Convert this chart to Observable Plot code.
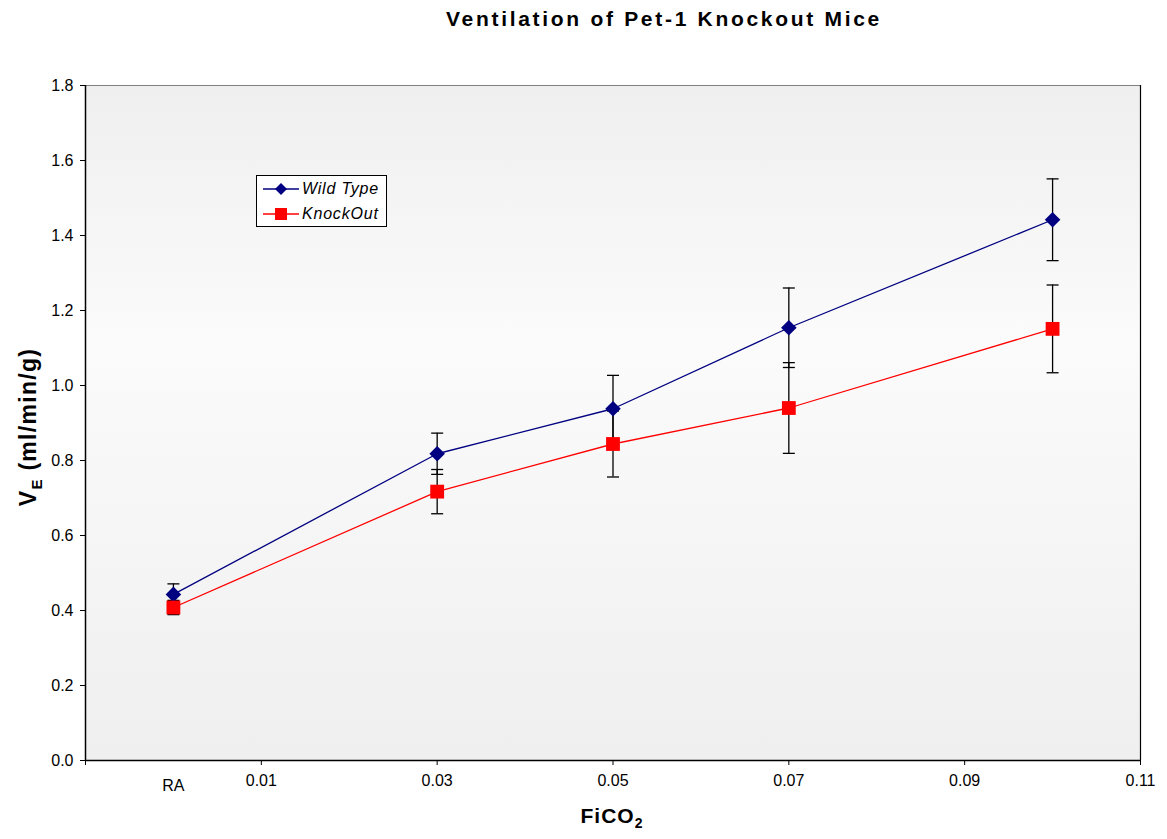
<!DOCTYPE html>
<html>
<head>
<meta charset="utf-8">
<script src="https://cdn.jsdelivr.net/npm/d3@7"></script>
<script src="https://cdn.jsdelivr.net/npm/@observablehq/plot@0.6"></script>
<style>
  body { margin: 0; background: white; font-family: "Liberation Sans", Arial, sans-serif; }
  #wrap { position: relative; width: 1167px; height: 839px; }
  #chart svg text { font-size: 16px !important; font-family: "Liberation Sans", Arial, sans-serif; }
  #title { position: absolute; top: 7px; left: 664px; transform: translateX(-50%); white-space: nowrap; font-weight: bold; font-size: 21px; letter-spacing: 2.7px; }
  #ylab { position: absolute; left: 30px; top: 427px; transform: translate(-50%, -50%) rotate(-90deg); white-space: nowrap; font-weight: bold; font-size: 23px; letter-spacing: 1.3px; }
  #ylab sub { font-size: 15px; vertical-align: -6px; }
  #xlab { position: absolute; left: 612px; top: 804px; transform: translateX(-50%); white-space: nowrap; font-weight: bold; font-size: 21px; letter-spacing: 1px; }
  #xlab sub { font-size: 14px; vertical-align: -5px; }
  #legend { position: absolute; left: 256px; top: 175px; width: 129px; height: 50px; background: white; border: 1px solid black; font-style: italic; font-size: 16px; letter-spacing: 0.8px; }
  .lrow { position: absolute; left: 6px; height: 20px; display: flex; align-items: center; }
  .lrow svg { margin-right: 3px; }
</style>
</head>
<body>
<div id="wrap">
  <div id="chart"></div>
  <div id="title">Ventilation of Pet-1 Knockout Mice</div>
  <div id="ylab">V<sub>E</sub> (ml/min/g)</div>
  <div id="xlab">FiCO<sub>2</sub></div>
  <div id="legend"></div>
</div>
<script>
// Data
const seriesNames = ["Wild Type", "KnockOut"];
const seriesColors = ["#000080", "#ff0000"];
const conditionLabels = ["RA", "0.03", "0.05", "0.07", "0.10"];
const fico2 = [0, 0.03, 0.05, 0.07, 0.10];
const wtMean = [0.443, 0.818, 0.938, 1.154, 1.442];
const wtErr = [0.028, 0.055, 0.089, 0.106, 0.109];
const koMean = [0.408, 0.717, 0.844, 0.940, 1.151];
const koErr = [0.019, 0.059, 0.088, 0.121, 0.117];
const xTicks = [-0.01, 0.01, 0.03, 0.05, 0.07, 0.09, 0.11];
const yTicks = [0, 0.2, 0.4, 0.6, 0.8, 1.0, 1.2, 1.4, 1.6, 1.8];

const wt = fico2.map((x, i) => ({x, y: wtMean[i], lo: wtMean[i] - wtErr[i], hi: wtMean[i] + wtErr[i]}));
const ko = fico2.map((x, i) => ({x, y: koMean[i], lo: koMean[i] - koErr[i], hi: koMean[i] + koErr[i]}));
const bars = wt.concat(ko);
const caps = bars.flatMap(d => [{x: d.x, y: d.lo}, {x: d.x, y: d.hi}]);

const capSymbol = {
  draw(context, size) {
    const r = Math.sqrt(size / Math.PI);
    context.moveTo(-r, 0);
    context.lineTo(r, 0);
  }
};

const chart = Plot.plot({
  width: 1167,
  height: 839,
  marginLeft: 85,
  marginRight: 27,
  marginTop: 85,
  marginBottom: 79,
  style: {fontFamily: "'Liberation Sans', Arial, sans-serif", fontSize: "16px", color: "black", background: "white"},
  x: {domain: [-0.01, 0.11]},
  y: {domain: [0, 1.8]},
  marks: [
    Plot.frame({fill: "url(#plotbg)", stroke: null}),
    Plot.ruleY([1.8], {stroke: "#808080", strokeWidth: 1.2}),
    Plot.ruleX([0.11], {stroke: "#000", strokeWidth: 1.2}),
    Plot.axisY({ticks: yTicks, tickFormat: d3.format(".1f"), tickSize: 5, tickPadding: 7, label: null}),
    Plot.axisX({ticks: xTicks, tickFormat: d => d < 0 ? "" : d3.format(".2f")(d), tickSize: 5, tickPadding: 9, label: null}),
    Plot.axisX({ticks: [0], tickFormat: () => conditionLabels[0], tickSize: 0, tickPadding: 19, label: null}),
    Plot.ruleY([0], {stroke: "#000", strokeWidth: 1.5}),
    Plot.ruleX([-0.01], {stroke: "#000", strokeWidth: 1.5}),
    Plot.ruleX(bars, {x: "x", y1: "lo", y2: "hi", stroke: "#000", strokeWidth: 1.3}),
    Plot.dot(caps, {x: "x", y: "y", symbol: capSymbol, r: 6, stroke: "#000", strokeWidth: 1.3, fill: "none"}),
    Plot.line(wt, {x: "x", y: "y", stroke: seriesColors[0], strokeWidth: 1.3}),
    Plot.line(ko, {x: "x", y: "y", stroke: seriesColors[1], strokeWidth: 1.3}),
    Plot.dot(wt, {x: "x", y: "y", symbol: "diamond2", r: 7, fill: seriesColors[0], stroke: null}),
    Plot.dot(ko, {x: "x", y: "y", symbol: "square", r: 7.8, fill: seriesColors[1], stroke: null})
  ]
});

const ns = "http://www.w3.org/2000/svg";
const defs = document.createElementNS(ns, "defs");
defs.innerHTML = `<linearGradient id="plotbg" x1="0" y1="0" x2="0" y2="1">
  <stop offset="0" stop-color="#efefef"/>
  <stop offset="0.38" stop-color="#fbfbfb"/>
  <stop offset="1" stop-color="#efefef"/>
</linearGradient>`;
chart.insertBefore(defs, chart.firstChild);
document.getElementById("chart").appendChild(chart);

// Legend
const legend = document.getElementById("legend");
const legendSymbols = [
  `<path d="M8,-6L14,0L8,6L2,0Z" transform="translate(10,10)" fill="${seriesColors[0]}"/>`,
  `<rect x="12" y="4" width="12" height="12" fill="${seriesColors[1]}"/>`
];
seriesNames.forEach((name, i) => {
  const row = document.createElement("div");
  row.className = "lrow";
  row.style.top = (3 + i * 25) + "px";
  row.innerHTML = `<svg width="36" height="20"><line x1="0" x2="36" y1="10" y2="10" stroke="${seriesColors[i]}" stroke-width="1.3"/>${legendSymbols[i]}</svg><span>${name}</span>`;
  legend.appendChild(row);
});
</script>
</body>
</html>
